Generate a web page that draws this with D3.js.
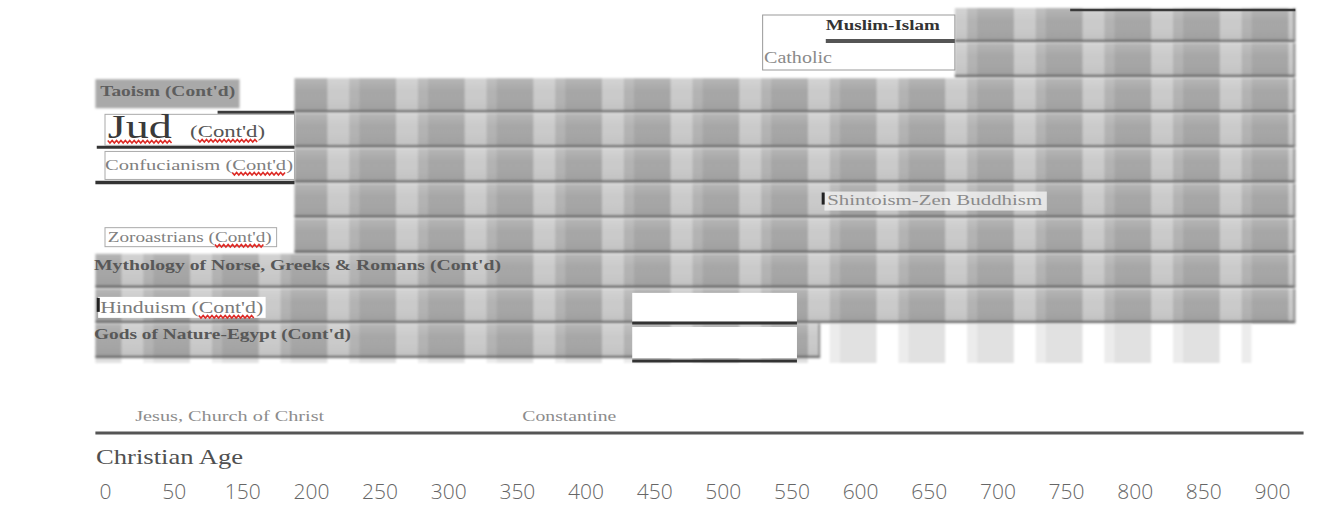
<!DOCTYPE html>
<html>
<head>
<meta charset="utf-8">
<script src="https://cdn.jsdelivr.net/npm/d3@7"></script>
<style>
    body { margin: 0; background: #fff; }
    svg { display: block; }
    text { font-family: "Liberation Serif", "Times New Roman", serif; }
</style>
</head>
<body>
<svg id="chart" width="1333" height="506"></svg>
<script>
// Tick labels of the "Christian Age" ruler, one slot of 50 years each (the sheet skips 100).
const tickLabels = ["0", "50", "150", "200", "250", "300", "350", "400", "450",
                    "500", "550", "600", "650", "700", "750", "800", "850", "900"];

// One row per religion, top to bottom.
const religions = ["Muslim-Islam", "Catholic", "Taoism (Cont'd)", "Jud (Cont'd)",
                   "Confucianism (Cont'd)", "Shintoism-Zen Buddhism", "Zoroastrians (Cont'd)",
                   "Mythology of Norse, Greeks & Romans (Cont'd)", "Hinduism (Cont'd)",
                   "Gods of Nature-Egypt (Cont'd)"];
// Start / end of each bar, on the ruler's scale.
const barStart = [619, 619, 138, 138, 138, 138, 138, -7, -7, -7];
const barEnd   = [867, 867, 867, 867, 867, 867, 867, 867, 867, 521];

// Faded strip behind the last row.
const fadedStart = -7;
const fadedEnd = 835;

// Events written above the ruler.
const events = ["Jesus, Church of Christ", "Constantine"];
const eventYear = [22, 304];

const svg = d3.select("#chart");

const x = d3.scaleLinear()
    .domain([0, 50 * (tickLabels.length - 1)])
    .range([105, 1272]);

const y = d3.scaleBand()
    .domain(religions)
    .range([8, 357])
    .paddingInner(0.06);

const slot = x(50) - x(0);
const defs = svg.append("defs");

// Vertical stripes every 50 years.
function stripes(id, dark, light) {
    const p = defs.append("pattern")
        .attr("id", id)
        .attr("patternUnits", "userSpaceOnUse")
        .attr("x", x(20) - 11)
        .attr("y", 0)
        .attr("width", slot)
        .attr("height", 10);
    p.append("rect").attr("width", slot).attr("height", 10).attr("fill", dark);
    p.append("rect").attr("width", 22).attr("height", 10).attr("fill", light);
    p.append("rect").attr("x", 22).attr("width", 10).attr("height", 10).attr("fill", d3.interpolateRgb(dark, light)(0.35));
}
stripes("bars", "#a6a6a6", "#cacaca");
stripes("faded", "#e1e1e1", "#ffffff");

// soft scan look
defs.append("filter")
    .attr("id", "soft")
    .attr("x", "-2%").attr("y", "-10%").attr("width", "104%").attr("height", "120%")
    .append("feGaussianBlur")
        .attr("stdDeviation", 1.1);

const shade = defs.append("linearGradient")
    .attr("id", "shade")
    .attr("x1", 0).attr("x2", 0).attr("y1", 0).attr("y2", 1);
shade.append("stop").attr("offset", "0%").attr("stop-color", "#fff").attr("stop-opacity", 0.18);
shade.append("stop").attr("offset", "40%").attr("stop-color", "#fff").attr("stop-opacity", 0);
shade.append("stop").attr("offset", "100%").attr("stop-color", "#000").attr("stop-opacity", 0.05);

const last = religions[religions.length - 1];
const plot = svg.append("g").attr("filter", "url(#soft)");

// Faded strip
plot.append("rect")
    .attr("x", x(fadedStart))
    .attr("y", y(last))
    .attr("width", x(fadedEnd) - x(fadedStart))
    .attr("height", y.bandwidth() + 6)
    .attr("fill", "url(#faded)");

// Bars
const bars = plot.selectAll(".bar")
    .data(religions)
    .enter()
    .append("g")
        .attr("class", "bar");

bars.append("rect")
    .attr("x", (d, i) => x(barStart[i]))
    .attr("y", d => y(d))
    .attr("width", (d, i) => x(barEnd[i]) - x(barStart[i]))
    .attr("height", y.bandwidth())
    .attr("fill", "url(#bars)");

bars.append("rect")
    .attr("x", (d, i) => x(barStart[i]))
    .attr("y", d => y(d))
    .attr("width", (d, i) => x(barEnd[i]) - x(barStart[i]))
    .attr("height", y.bandwidth())
    .attr("fill", "url(#shade)");

bars.append("line")
    .attr("x1", (d, i) => x(barStart[i]))
    .attr("x2", (d, i) => x(barEnd[i]))
    .attr("y1", d => y(d) + y.bandwidth())
    .attr("y2", d => y(d) + y.bandwidth())
    .attr("stroke", "#666")
    .attr("stroke-width", 2.5);

bars.append("line")
    .attr("x1", (d, i) => x(barEnd[i]) - 1)
    .attr("x2", (d, i) => x(barEnd[i]) - 1)
    .attr("y1", d => y(d))
    .attr("y2", d => y(d) + y.bandwidth())
    .attr("stroke", "#8a8a8a")
    .attr("stroke-width", 2);

// rules that run on to the left of the bars
function rule(x0, x1, yy, w, c) {
    svg.append("line")
        .attr("x1", x(x0)).attr("x2", x(x1))
        .attr("y1", yy).attr("y2", yy)
        .attr("stroke", c).attr("stroke-width", w);
}
const bottom = name => y(name) + y.bandwidth();
rule(703, 867, 10, 2.5, "#3a3a3a");
rule(82, 138, bottom(religions[2]) + 1, 3, "#3c3c3c");
rule(-6, 138, bottom(religions[3]) + 1, 3, "#333");
rule(-7, 138, bottom(religions[4]) + 1, 3.5, "#333");

// Taoism box on grey
svg.append("rect")
    .attr("x", x(-7)).attr("y", y(religions[2]) + 1)
    .attr("width", x(98) - x(-7)).attr("height", y.bandwidth() - 4)
    .attr("fill", "#a9a9a9")
    .attr("filter", "url(#soft)");

// white text boxes
function box(x0, x1, y0, h, stroke) {
    svg.append("rect")
        .attr("x", x(x0)).attr("y", y0)
        .attr("width", x(x1) - x(x0)).attr("height", h)
        .attr("fill", "#fff")
        .attr("stroke", stroke || "none")
        .attr("stroke-width", 1);
}
box(479, 619, 15, 55, "#999");
box(0, 138, y(religions[3]) + 1, y.bandwidth() - 2, "#aaa");
box(0, 138, y(religions[4]) + 3, y.bandwidth() - 5, "#aaa");
box(0, 125, y(religions[6]) + 9, 19, "#aaa");
box(-5, 117, y(religions[8]) + 8, 21, null);
box(384, 504, y(religions[8]) + 4, 29, null);
box(384, 504, y(religions[9]) + 3, 31, null);
rule(384, 504, bottom(religions[8]) + 1, 3, "#333");
rule(384, 504, bottom(religions[9]) + 4, 3, "#333");
rule(525, 619, 41, 4, "#555");

// Shintoism highlight
svg.append("rect")
    .attr("x", x(524)).attr("y", y(religions[5]) + 8)
    .attr("width", x(686) - x(524)).attr("height", 19)
    .attr("fill", "#f2f2f2").attr("opacity", 0.8);

// small black marks
function mark(xx, yy, h) {
    svg.append("rect").attr("x", x(xx)).attr("y", yy).attr("width", 3).attr("height", h).attr("fill", "#222");
}
mark(-6, y(religions[8]) + 9, 14);
mark(522, y(religions[5]) + 9, 12);

// Labels
function label(text, x0, width, baseline, size, opts) {
    opts = opts || {};
    const t = svg.append("text")
        .attr("x", x(x0))
        .attr("y", baseline)
        .attr("font-size", size)
        .attr("font-weight", opts.bold ? "bold" : "normal")
        .attr("fill", opts.fill || "#7a7a7a")
        .attr("textLength", width)
        .attr("lengthAdjust", "spacingAndGlyphs")
        .text(text);
    return t;
}

// red spell-check squiggle under characters [from, to) of a text node
function squiggle(t, from, to) {
    const node = t.node();
    const x0 = node.getStartPositionOfChar(from).x;
    const x1 = node.getEndPositionOfChar(to - 1).x;
    const yy = +t.attr("y") + 3;
    const pts = d3.range(x0, x1, 2.2).map((px, i) => [px, yy + (i % 2 ? 2 : -0.5)]);
    svg.append("path")
        .attr("d", d3.line()(pts))
        .attr("fill", "none")
        .attr("stroke", "#dd2a25")
        .attr("stroke-width", 1.6);
}

label("Muslim-Islam", 525, 114, 30, 15, {bold: true, fill: "#333"});
label("Catholic", 480, 68, 63, 16, {fill: "#8a8a8a"});
label("Taoism (Cont'd)", -3.5, 135, 96, 15, {bold: true, fill: "#5e5e5e"});

const jud = label("Jud", 2, 64, 138, 34, {fill: "#3a3a3a"});
squiggle(jud, 0, 3);
const judCont = label("(Cont'd)", 62, 75, 137, 16, {fill: "#555"});
squiggle(judCont, 1, 7);

const conf = label("Confucianism (Cont'd)", 0, 188, 170, 15, {fill: "#808080"});
squiggle(conf, 14, 20);

label("Shintoism-Zen Buddhism", 526, 215, 205, 15, {fill: "#8a8a8a"});

const zor = label("Zoroastrians (Cont'd)", 2, 164, 242, 14, {fill: "#808080"});
squiggle(zor, 14, 20);

label("Mythology of Norse, Greeks & Romans (Cont'd)", -8, 407, 270, 15, {bold: true, fill: "#585858"});

const hin = label("Hinduism (Cont'd)", -3.5, 163, 313, 16, {fill: "#7a7a7a"});
squiggle(hin, 10, 16);

label("Gods of Nature-Egypt (Cont'd)", -8, 257, 339, 15, {bold: true, fill: "#585858"});

// Events above the ruler
svg.selectAll(".event")
    .data(events)
    .enter()
    .append("text")
        .attr("class", "event")
        .attr("x", (d, i) => x(eventYear[i]))
        .attr("y", 421)
        .attr("font-size", 14)
        .attr("fill", "#8c8c8c")
        .attr("textLength", (d, i) => i === 0 ? 189 : 94)
        .attr("lengthAdjust", "spacingAndGlyphs")
        .text(d => d);

// Ruler
rule(-7, 873, 433, 3, "#555");
label("Christian Age", -6.5, 147, 464, 21, {fill: "#505050"});

const axis = svg.append("g")
    .attr("transform", "translate(0,499)")
    .call(d3.axisBottom(x)
        .tickValues(tickLabels.map((d, i) => i * 50))
        .tickFormat((d, i) => tickLabels[i])
        .tickSize(0)
        .tickPadding(0));
axis.select(".domain").remove();
axis.selectAll("text")
    .attr("y", 0)
    .attr("dy", 0)
    .style("font-family", "'Open Sans', 'Liberation Sans', sans-serif")
    .style("font-weight", 300)
    .attr("font-size", 21)
    .attr("fill", "#666");
</script>
</body>
</html>
